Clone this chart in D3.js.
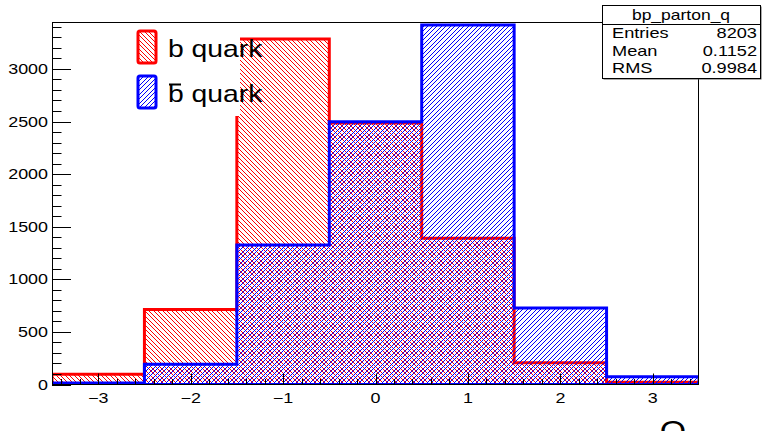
<!DOCTYPE html>
<html>
<head>
<meta charset="utf-8">
<script src="https://cdn.jsdelivr.net/npm/d3@7"></script>
<style>
  html, body { margin: 0; padding: 0; background: #fff; }
  svg { display: block; }
</style>
</head>
<body>
<svg id="chart" width="762" height="431"></svg>
<script>
// ---- data ----
const binCenters = [-3, -2, -1, 0, 1, 2, 3];
const bQuark     = [97, 712, 3284, 2485, 1390, 207, 21];
const bbarQuark  = [14, 192, 1326, 2498, 3417, 727, 74];
const yTickValues = [0, 500, 1000, 1500, 2000, 2500, 3000];
const xTickValues = [-3, -2, -1, 0, 1, 2, 3];
const legendLabels = ["b quark", "b quark"];
const statsTitle = "bp_parton_q";
const statsNames = ["Entries", "Mean", "RMS"];
const statsValues = ["8203", "0.1152", "0.9984"];
const xTitle = "Q";

// ---- layout ----
const fr = {left: 52, right: 699, top: 22, bottom: 384.5};
const FONT = "'Liberation Sans', Arial, Helvetica, sans-serif";
const svg = d3.select("#chart");

const x = d3.scaleLinear().domain([-3.5, 3.5]).range([fr.left, fr.right]);
const y = d3.scaleLinear().domain([0, 3446]).range([fr.bottom, fr.top]);

// crisp pixel hatch patterns (period 9 px with two lines)
const defs = svg.append("defs");
function hatch(id, color, rising) {
  const n = 9;
  const p = defs.append("pattern").attr("id", id)
    .attr("patternUnits", "userSpaceOnUse")
    .attr("width", n).attr("height", n);
  for (let i = 0; i < n; i++) {
    const base = rising ? (n - 1 - i) : i;
    [0, 4].forEach(off => {
      p.append("rect").attr("x", i).attr("y", (base + off) % n)
        .attr("width", 1).attr("height", 1).attr("fill", color);
    });
  }
}
hatch("hRed", "#ff0000", false);
hatch("hBlue", "#0000ff", true);

defs.append("clipPath").attr("id", "frameClip").append("rect")
  .attr("x", fr.left).attr("y", fr.top)
  .attr("width", fr.right - fr.left).attr("height", fr.bottom - fr.top);

function stext(g, tx, ty, str, anchor, size, sx) {
  return g.append("text")
    .attr("transform", `translate(${tx},${ty}) scale(${sx},1)`)
    .attr("text-anchor", anchor)
    .attr("font-family", FONT)
    .attr("font-size", size)
    .attr("fill", "#000")
    .text(str);
}

// histogram step path
function stepPath(vals) {
  const p = d3.path();
  p.moveTo(x(binCenters[0] - 0.5), y(0));
  binCenters.forEach((c, i) => {
    p.lineTo(x(c - 0.5), y(vals[i]));
    p.lineTo(x(c + 0.5), y(vals[i]));
  });
  p.lineTo(x(binCenters[binCenters.length - 1] + 0.5), y(0));
  p.closePath();
  return p.toString();
}

const hg = svg.append("g").attr("clip-path", "url(#frameClip)");
[[bQuark, "hRed", "#ff0000"], [bbarQuark, "hBlue", "#0000ff"]].forEach(([vals, pat, col]) => {
  hg.append("path").attr("d", stepPath(vals))
    .attr("fill", `url(#${pat})`).attr("stroke", "none");
  hg.append("path").attr("d", stepPath(vals))
    .attr("fill", "none").attr("stroke", col).attr("stroke-width", 3)
    .attr("stroke-linejoin", "miter");
});

// frame
svg.append("rect").attr("x", fr.left + 0.5).attr("y", fr.top + 0.5)
  .attr("width", fr.right - fr.left - 1).attr("height", fr.bottom - fr.top - 0.5)
  .attr("fill", "none").attr("stroke", "#000").attr("stroke-width", 1);

// y axis ticks
const yAxisG = svg.append("g");
d3.range(0, 3446, 100).forEach(v => {
  const major = v % 500 === 0;
  const yy = Math.round(y(v)) + 0.5;
  yAxisG.append("line").attr("x1", fr.left).attr("x2", fr.left + (major ? 19 : 9.5))
    .attr("y1", yy).attr("y2", yy).attr("stroke", "#000").attr("stroke-width", 1);
});
yTickValues.forEach(v => {
  stext(yAxisG, 48, y(v) + 5, String(v), "end", 14, 1.28);
});

// x axis ticks
const xAxisG = svg.append("g");
d3.range(-17, 18).forEach(k => {
  const v = k * 0.2;
  const major = k % 5 === 0;
  const xx = Math.round(x(v)) + 0.5;
  xAxisG.append("line").attr("x1", xx).attr("x2", xx)
    .attr("y1", fr.bottom).attr("y2", fr.bottom - (major ? 11 : 5.5))
    .attr("stroke", "#000").attr("stroke-width", 1);
});
xTickValues.forEach(v => {
  const lbl = v < 0 ? "\u2212" + Math.abs(v) : String(v);
  stext(xAxisG, x(v), 403, lbl, "middle", 14, 1.28);
});

// x title (cut off at the bottom edge as in the reference)
stext(svg, 686, 441, xTitle, "end", 30, 1.13);

// legend
const lg = svg.append("g");
lg.append("rect").attr("x", 100).attr("y", 23).attr("width", 140).attr("height", 93).attr("fill", "#fff");
const legendItems = [["hRed", "#ff0000", 30], ["hBlue", "#0000ff", 75]];
legendItems.forEach(([pat, col, ty], i) => {
  lg.append("rect").attr("x", 138).attr("y", ty + 1).attr("width", 18).attr("height", 32)
    .attr("rx", 2).attr("fill", `url(#${pat})`).attr("stroke", col).attr("stroke-width", 3);
  stext(lg, 168, i === 0 ? 57 : 101.5, legendLabels[i], "start", 24, 1.18);
});
// overbar for anti-b
lg.append("line").attr("x1", 169).attr("x2", 181).attr("y1", 84.5).attr("y2", 84.5)
  .attr("stroke", "#000").attr("stroke-width", 2);

// stats box
const sb = svg.append("g");
const sx0 = 602, sx1 = 760, sy0 = 5, sy1 = 78;
sb.append("rect").attr("x", sx0 + 1.5).attr("y", sy0 + 1.5).attr("width", sx1 - sx0).attr("height", sy1 - sy0)
  .attr("fill", "#555");
sb.append("rect").attr("x", sx0 + 0.5).attr("y", sy0 + 0.5).attr("width", sx1 - sx0).attr("height", sy1 - sy0)
  .attr("fill", "#fff").attr("stroke", "#000").attr("stroke-width", 1);
sb.append("line").attr("x1", sx0).attr("x2", sx1).attr("y1", 24.5).attr("y2", 24.5)
  .attr("stroke", "#000").attr("stroke-width", 1);
stext(sb, 681, 19.5, statsTitle, "middle", 14, 1.25);
statsNames.forEach((n, i) => {
  const by = 38 + i * 17.5;
  stext(sb, 612, by, n, "start", 14, 1.3);
  stext(sb, 757, by, statsValues[i], "end", 14, 1.3);
});
</script>
</body>
</html>
